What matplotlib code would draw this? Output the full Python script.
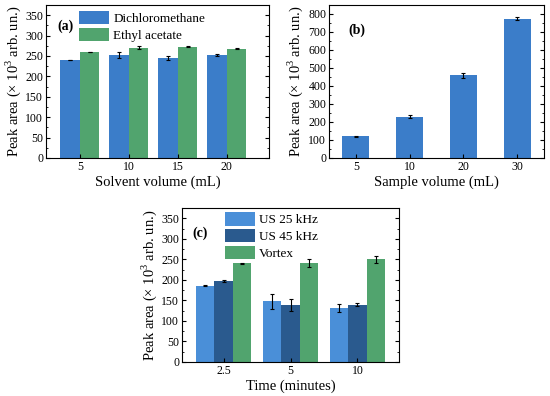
import numpy as np
from matplotlib import pyplot as plt
from matplotlib.ticker import AutoMinorLocator

plt.rcParams['font.family'] = ['Liberation Serif', 'DejaVu Serif']
plt.rcParams['mathtext.fontset'] = 'custom'
plt.rcParams['mathtext.rm'] = 'Liberation Serif'

# panel (a)
solvent_vol = ['5', '10', '15', '20']
dcm = [240, 253, 246, 252]
dcm_err = [1, 8, 5, 3]
ethyl = [260, 270, 273, 268]
ethyl_err = [1, 4, 1, 1]

# panel (b)
sample_vol = ['5', '10', '20', '30']
sample_area = [122, 230, 460, 775]
sample_err = [3, 7, 15, 10]

# panel (c)
times = ['2.5', '5', '10']
us25 = [186, 148, 132]
us25_err = [0.5, 18, 10]
us45 = [197, 138, 140]
us45_err = [2, 15, 3]
vortex = [240, 241, 250]
vortex_err = [1, 9, 9]

blue = '#3b7dc9'
green = '#51a46e'
lblue = '#4a8fd8'
dblue = '#2a5a8e'

ylab = 'Peak area (× 10$^3$ arb. un.)'
ekw = dict(ecolor='black', capsize=1.5, elinewidth=0.8, capthick=0.8)
leg_kw = dict(loc='upper left', frameon=False, fontsize=9.5, handlelength=2.3,
              handleheight=1.2, labelspacing=0.2, handletextpad=0.3,
              borderpad=0, borderaxespad=0)


def style(ax):
    ax.tick_params(direction='in', which='both', right=True, labelsize=8.5, pad=2)
    ax.tick_params(axis='x', which='both', top=False)
    ax.tick_params(which='major', length=3)
    ax.tick_params(which='minor', length=1.5)
    ax.yaxis.set_minor_locator(AutoMinorLocator(2))
    for s in ax.spines.values():
        s.set_linewidth(0.8)


fig = plt.figure(figsize=(5.5, 3.96), dpi=100)

# (a)
ax = fig.add_axes([46 / 550, 1 - 158 / 396, 223 / 550, 153 / 396])
x = np.arange(len(solvent_vol))
w = 0.4
ax.bar(x - w / 2, dcm, w, yerr=dcm_err, color=blue, label='Dichloromethane', error_kw=ekw)
ax.bar(x + w / 2, ethyl, w, yerr=ethyl_err, color=green, label='Ethyl acetate', error_kw=ekw)
ax.set_xticks(x, solvent_vol)
ax.set_xlim(-0.69, 3.86)
ax.set_ylim(0, 375)
ax.set_yticks(range(0, 351, 50))
ax.set_ylabel(ylab, fontsize=10.5, labelpad=2)
ax.set_xlabel('Solvent volume (mL)', fontsize=10.5, labelpad=2)
ax.text(0.05, 0.84, '(a)', transform=ax.transAxes, fontsize=10, fontweight='bold')
ax.legend(bbox_to_anchor=(0.148, 0.961), **leg_kw)
style(ax)

# (b)
ax = fig.add_axes([329 / 550, 1 - 158 / 396, 215 / 550, 153 / 396])
x = np.arange(len(sample_vol))
ax.bar(x, sample_area, 0.5, yerr=sample_err, color=blue, error_kw=ekw)
ax.set_xticks(x, sample_vol)
ax.set_xlim(-0.5, 3.5)
ax.set_ylim(0, 850)
ax.set_yticks(range(0, 801, 100))
ax.set_ylabel(ylab, fontsize=10.5, labelpad=2)
ax.set_xlabel('Sample volume (mL)', fontsize=10.5, labelpad=2)
ax.text(0.09, 0.81, '(b)', transform=ax.transAxes, fontsize=10, fontweight='bold')
style(ax)

# (c)
ax = fig.add_axes([182 / 550, 1 - 362 / 396, 217 / 550, 154 / 396])
x = np.arange(len(times))
w = 0.27
ax.bar(x - w, us25, w, yerr=us25_err, color=lblue, label='US 25 kHz', error_kw=ekw)
ax.bar(x, us45, w, yerr=us45_err, color=dblue, label='US 45 kHz', error_kw=ekw)
ax.bar(x + w, vortex, w, yerr=vortex_err, color=green, label='Vortex', error_kw=ekw)
ax.set_xticks(x, times)
ax.set_xlim(-0.62, 2.62)
ax.set_ylim(0, 375)
ax.set_yticks(range(0, 351, 50))
ax.set_ylabel(ylab, fontsize=10.5, labelpad=2)
ax.set_xlabel('Time (minutes)', fontsize=10.5, labelpad=2)
ax.text(0.05, 0.81, '(c)', transform=ax.transAxes, fontsize=10, fontweight='bold')
ax.legend(bbox_to_anchor=(0.198, 0.974), **leg_kw)
style(ax)

fig.savefig('out.png', dpi=100)
